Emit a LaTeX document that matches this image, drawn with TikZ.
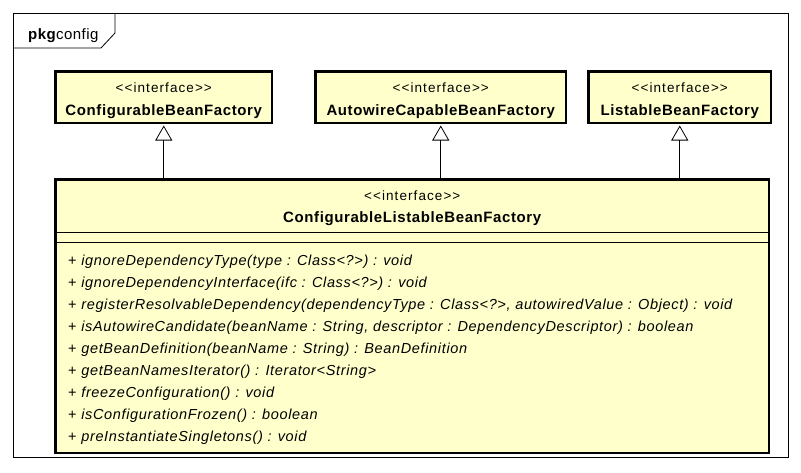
\documentclass[tikz,border=0pt]{standalone}
\usepackage{fontspec}
\setmainfont{Liberation Sans}
\usetikzlibrary{arrows.meta}
\definecolor{boxfill}{RGB}{255,255,204}
\begin{document}
\begin{tikzpicture}[x=1pt,y=-1pt,
  cls/.style={draw, line width=2.5pt, fill=boxfill, inner sep=0pt, anchor=north west},
  stereo/.style={font=\fontsize{13.5}{13.5}\selectfont\addfontfeatures{LetterSpace=8}, anchor=base, inner sep=0pt},
  cname/.style={font=\fontsize{15}{15}\selectfont\addfontfeatures{LetterSpace=4}\bfseries, anchor=base, inner sep=0pt},
  meth/.style={font=\fontsize{14.5}{14.5}\selectfont\addfontfeatures{LetterSpace=4.5}, anchor=base west, inner sep=0pt},
  sepline/.style={line width=1pt},
  gen/.style={line width=0.8pt, shorten >=1.25pt, -{Triangle[open, length=15pt, width=17pt, line width=0.8pt]}}
]
\useasboundingbox (0,0) rectangle (801,472);
\fill[white] (0,0) rectangle (801,472);
% package frame
\draw[line width=0.8pt] (13,13) rectangle (788,457);
\draw[line width=0.8pt] (13,48) -- (101,48) -- (115,33) -- (115,13);
\node[anchor=base west, inner sep=0pt, font=\fontsize{15}{15}\selectfont\addfontfeatures{LetterSpace=3}] (pkg) at (28,39) {\textbf{pkg}config};

% top interfaces
\node[cls, minimum width=216.5pt, minimum height=51.5pt] (b1) at (54.25,70.25) {};
\node[cls, minimum width=250.5pt, minimum height=51.5pt] (b2) at (314.25,70.25) {};
\node[cls, minimum width=182.5pt, minimum height=51.5pt] (b3) at (587.25,70.25) {};
\foreach \b/\t in {b1/ConfigurableBeanFactory, b2/AutowireCapableBeanFactory, b3/ListableBeanFactory}{
  \node[stereo] (\b s) at ([yshift=-21.75pt]\b.north) {<{}<interface>{}>};
  \node[cname] (\b n) at ([yshift=-45pt]\b.north) {\t};
}

% main interface
\node[cls, minimum width=713.5pt, minimum height=273.5pt] (main) at (54.25,178.25) {};
\node[stereo] (mains) at ([yshift=-21.75pt]main.north) {<{}<interface>{}>};
\node[cname] (mainn) at ([yshift=-44pt]main.north) {ConfigurableListableBeanFactory};
\draw[sepline] ([yshift=-53.75pt]main.north west) -- ([yshift=-53.75pt]main.north east);
\draw[sepline] ([yshift=-63.75pt]main.north west) -- ([yshift=-63.75pt]main.north east);

\node[meth] (m1) at (68,265) {+ \textit{ignoreDependencyType(type : Class<?>) : void}};
\node[meth] (m2) at (68,287) {+ \textit{ignoreDependencyInterface(ifc : Class<?>) : void}};
\node[meth] (m3) at (68,309) {+ \textit{registerResolvableDependency(dependencyType : Class<?>, autowiredValue : Object) : void}};
\node[meth] (m4) at (68,331) {+ \textit{isAutowireCandidate(beanName : String, descriptor : DependencyDescriptor) : boolean}};
\node[meth] (m5) at (68,353) {+ \textit{getBeanDefinition(beanName : String) : BeanDefinition}};
\node[meth] (m6) at (68,375) {+ \textit{getBeanNamesIterator() : Iterator<String>}};
\node[meth] (m7) at (68,397) {+ \textit{freezeConfiguration() : void}};
\node[meth] (m8) at (68,419) {+ \textit{isConfigurationFrozen() : boolean}};
\node[meth] (m9) at (68,441) {+ \textit{preInstantiateSingletons() : void}};

% generalizations
\draw[gen] (b1.south |- main.north) -- (b1.south);
\draw[gen] (b2.south |- main.north) -- (b2.south);
\draw[gen] (b3.south |- main.north) -- (b3.south);
\end{tikzpicture}
\end{document}
